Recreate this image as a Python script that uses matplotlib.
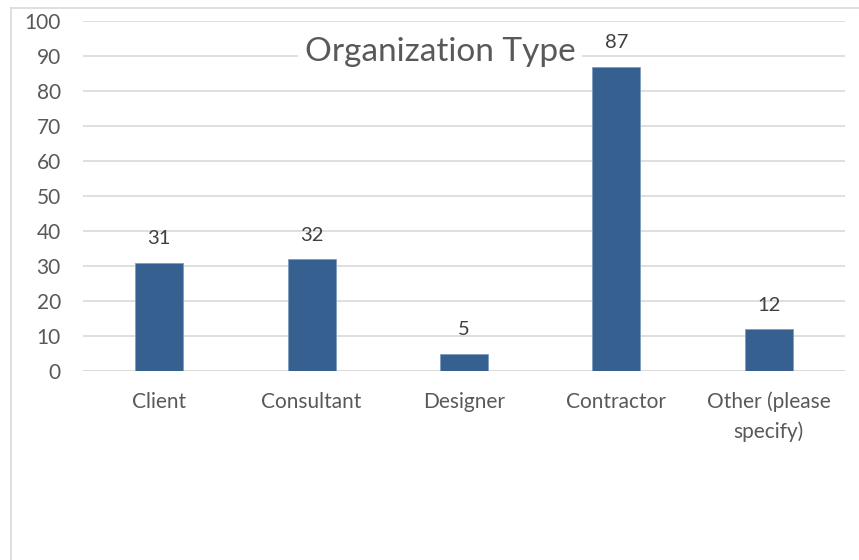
import matplotlib
matplotlib.use("Agg")
import matplotlib.pyplot as plt
from matplotlib.lines import Line2D

categories = ["Client", "Consultant", "Designer", "Contractor", "Other (please\nspecify)"]
values = [31, 32, 5, 87, 12]
yticks = [0, 10, 20, 30, 40, 50, 60, 70, 80, 90, 100]

W, H = 859, 560
fig = plt.figure(figsize=(W/100, H/100), dpi=100)
plt.rcParams['font.family'] = ['Lato', 'DejaVu Sans']

left, right = 83/W, 845/W
bottom, top = 1-371/H, 1-21/H
ax = fig.add_axes([left, bottom, right-left, top-bottom])

txt = '#595959'
ax.bar(range(len(values)), values, width=0.315, color='#35608F', edgecolor='#7F9CC0', linewidth=0.6, zorder=3)
ax.set_xlim(-0.5, len(values)-0.5)
ax.set_ylim(0, 100)
ax.set_yticks(yticks)
ax.set_yticklabels([str(t) for t in yticks], fontsize=15, color=txt)
ax.set_xticks(range(len(values)))
ax.set_xticklabels(categories, fontsize=15, color=txt, linespacing=1.55)
ax.tick_params(axis='both', length=0)
ax.tick_params(axis='y', pad=16)
ax.tick_params(axis='x', pad=15)
ax.yaxis.grid(True, color='#D9D9D9', linewidth=1.2, zorder=0)
for s in ax.spines.values():
    s.set_visible(False)
ax.axhline(0, color='#D9D9D9', linewidth=1.2, zorder=2)

for i, v in enumerate(values):
    ax.annotate(str(v), (i, v), xytext=(0, 17), textcoords='offset points',
                ha='center', va='center', fontsize=14.5, color='#404040')

fig.text(440/W, 1-52/H, "Organization Type", ha='center', va='center', fontsize=24,
         color=txt, bbox=dict(facecolor='white', edgecolor='none', pad=5))

# chart border (left and top)
fig.add_artist(Line2D([10.5/W, 10.5/W], [0, 1-7.5/H], color='#D9D9D9', linewidth=1.2))
fig.add_artist(Line2D([10.5/W, 1], [1-7.5/H, 1-7.5/H], color='#D9D9D9', linewidth=1.2))

fig.savefig("out.png", dpi=100)
